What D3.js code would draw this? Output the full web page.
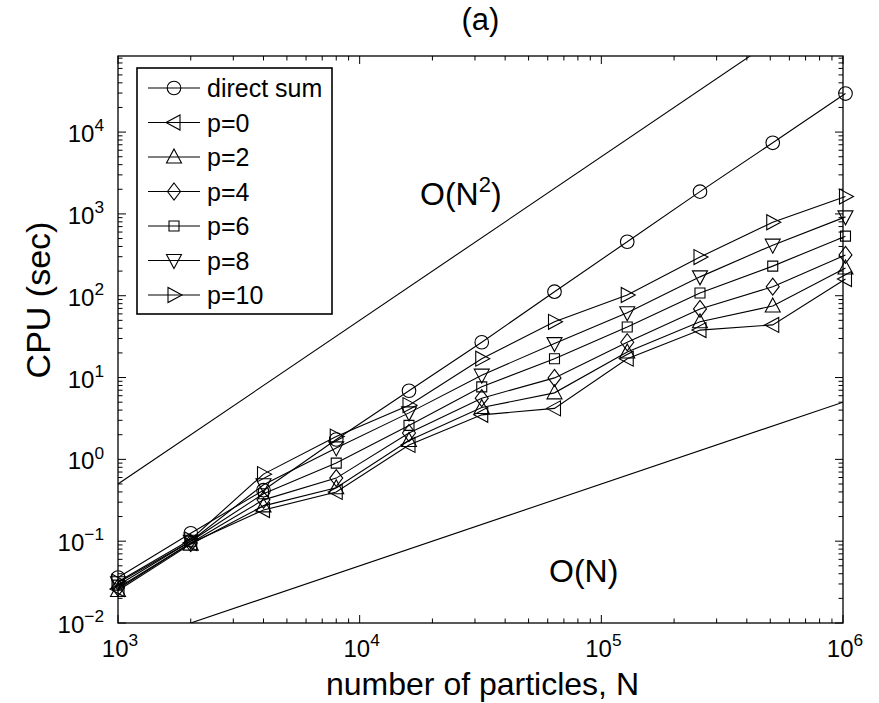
<!DOCTYPE html>
<html>
<head>
<meta charset="utf-8">
<script src="https://cdn.jsdelivr.net/npm/d3@7"></script>
<style>
  body { margin: 0; background: #fff; }
  text { font-family: "Liberation Sans", Arial, Helvetica, sans-serif; fill: #000; }
</style>
</head>
<body>
<div class="chartWrapper"></div>
<script>
const width = 879, height = 703;
const margin = { left: 118, right: 879 - 843, top: 56, bottom: 703 - 623 };

// particle counts
const particles = [1000, 2000, 4000, 8000, 16000, 32000, 64000, 128000, 256000, 512000, 1024000];

// CPU seconds
const directSum = [0.036, 0.125, 0.42, 1.75, 6.9, 27, 112, 457, 1870, 7400, 29600];
const p0  = [0.026, 0.095, 0.24, 0.40, 1.5, 3.5, 4.2, 17, 38, 44, 160];
const p2  = [0.025, 0.092, 0.27, 0.45, 1.7, 4.3, 6.5, 20.5, 48, 75, 218];
const p4  = [0.027, 0.095, 0.32, 0.59, 2.1, 5.6, 9.9, 27, 69, 129, 315];
const p6  = [0.029, 0.100, 0.38, 0.90, 2.6, 7.7, 17, 41.5, 108, 230, 535];
const p8  = [0.031, 0.100, 0.49, 1.38, 3.7, 10.7, 26, 62, 170, 415, 920];
const p10 = [0.032, 0.105, 0.66, 1.90, 4.6, 17, 48, 102, 297, 790, 1630];

const seriesNames = ["direct sum", "p=0", "p=2", "p=4", "p=6", "p=8", "p=10"];
const seriesValues = [directSum, p0, p2, p4, p6, p8, p10];
const seriesMarkers = ["circle", "left", "up", "diamond", "square", "down", "right"];

// reference slopes: O(N^2) and O(N)
const refQuadCoef = 5e-7;
const refLinCoef = 5e-6;

const xTickExps = [3, 4, 5, 6];
const yTickExps = [-2, -1, 0, 1, 2, 3, 4];

const svg = d3.select(".chartWrapper").append("svg")
    .attr("width", width)
    .attr("height", height);

const x = d3.scaleLog()
    .domain([1e3, 1e6])
    .range([margin.left, width - margin.right]);

const y = d3.scaleLog()
    .domain([1e-2, Math.pow(10, 4.93)])
    .range([height - margin.bottom, margin.top]);

const x0 = x.range()[0], x1 = x.range()[1];
const y0 = y.range()[0], y1 = y.range()[1];

svg.append("clipPath").attr("id", "plotClip")
  .append("rect")
    .attr("x", x0).attr("y", y1)
    .attr("width", x1 - x0).attr("height", y0 - y1);

// minor + major ticks, pointing inward on all four sides
function drawTicks() {
  const g = svg.append("g").attr("stroke", "#000").attr("stroke-width", 1);
  const majorLen = 8, minorLen = 4.5;

  const xTicks = [];
  for (let e = 3; e < 6; e++) {
    for (let m = 1; m < 10; m++) xTicks.push({ v: m * Math.pow(10, e), major: m === 1 });
  }
  xTicks.push({ v: 1e6, major: true });
  xTicks.forEach(t => {
    const px = x(t.v), len = t.major ? majorLen : minorLen;
    g.append("line").attr("x1", px).attr("x2", px).attr("y1", y0).attr("y2", y0 - len);
    g.append("line").attr("x1", px).attr("x2", px).attr("y1", y1).attr("y2", y1 + len);
  });

  const yTicks = [];
  for (let e = -2; e < 5; e++) {
    for (let m = 1; m < 10; m++) {
      const v = m * Math.pow(10, e);
      if (v <= y.domain()[1]) yTicks.push({ v: v, major: m === 1 });
    }
  }
  yTicks.forEach(t => {
    const py = y(t.v), len = t.major ? majorLen : minorLen;
    g.append("line").attr("y1", py).attr("y2", py).attr("x1", x0).attr("x2", x0 + len);
    g.append("line").attr("y1", py).attr("y2", py).attr("x1", x1).attr("x2", x1 - len);
  });
}

function powerLabel(sel, exp, fontSize) {
  sel.append("tspan").text("10");
  sel.append("tspan")
    .attr("dy", -fontSize * 0.45)
    .attr("font-size", fontSize * 0.72)
    .text(exp < 0 ? "\u2212" + Math.abs(exp) : exp);
}

function drawTickLabels() {
  const fs = 24;
  xTickExps.forEach(e => {
    const t = svg.append("text")
      .attr("x", x(Math.pow(10, e)) + 2)
      .attr("y", y0 + 34)
      .attr("text-anchor", "middle")
      .attr("font-size", fs);
    powerLabel(t, e, fs);
  });
  yTickExps.forEach(e => {
    const t = svg.append("text")
      .attr("x", x0 - 14)
      .attr("y", y(Math.pow(10, e)) + 10)
      .attr("text-anchor", "end")
      .attr("font-size", fs);
    powerLabel(t, e, fs);
  });
}

function markerPath(type) {
  switch (type) {
    case "circle":
      return "M6.8,0A6.8,6.8 0 1,1 -6.8,0A6.8,6.8 0 1,1 6.8,0Z";
    case "up":
      return "M0,-8L7.5,6L-7.5,6Z";
    case "down":
      return "M0,8L7.5,-6L-7.5,-6Z";
    case "left":
      return "M-8,0L6,-7.5L6,7.5Z";
    case "right":
      return "M8,0L-6,-7.5L-6,7.5Z";
    case "square":
      return "M-5,-5L5,-5L5,5L-5,5Z";
    case "diamond":
      return "M0,-8.5L6.5,0L0,8.5L-6.5,0Z";
  }
}

drawTicks();

// reference slope lines
const refLine = d3.line().x(d => x(d[0])).y(d => y(d[1]));
const refG = svg.append("g").attr("clip-path", "url(#plotClip)")
    .attr("fill", "none").attr("stroke", "#000").attr("stroke-width", 1.1);
refG.append("path").attr("d", refLine([[1e3, refQuadCoef * 1e6], [1e6, refQuadCoef * 1e12]]));
refG.append("path").attr("d", refLine([[1e3, refLinCoef * 1e3], [1e6, refLinCoef * 1e6]]));

// data series
const seriesLine = d3.line()
    .x((d, i) => x(particles[i]))
    .y(d => y(d));

seriesValues.forEach((vals, si) => {
  const g = svg.append("g");
  g.append("path")
    .attr("d", seriesLine(vals))
    .attr("fill", "none")
    .attr("stroke", "#000")
    .attr("stroke-width", 1.1);
  g.selectAll("path.mk")
    .data(vals)
    .join("path")
      .attr("class", "mk")
      .attr("transform", (d, i) => `translate(${x(particles[i])},${y(d)})`)
      .attr("d", markerPath(seriesMarkers[si]))
      .attr("fill", "none")
      .attr("stroke", "#000")
      .attr("stroke-width", 1.1);
});

// axes box
svg.append("rect")
  .attr("x", x0).attr("y", y1)
  .attr("width", x1 - x0).attr("height", y0 - y1)
  .attr("fill", "none").attr("stroke", "#000").attr("stroke-width", 1.3);

drawTickLabels();

// slope annotations
const quadLabel = svg.append("text")
  .attr("x", 420).attr("y", 205)
  .attr("font-size", 32);
quadLabel.append("tspan").text("O(N");
quadLabel.append("tspan").attr("dy", -13).attr("font-size", 22).text("2");
quadLabel.append("tspan").attr("dy", 13).text(")");

svg.append("text")
  .attr("x", 549).attr("y", 582)
  .attr("font-size", 32)
  .text("O(N)");

// axis titles
svg.append("text")
  .attr("x", (x0 + x1) / 2).attr("y", 30)
  .attr("text-anchor", "middle")
  .attr("font-size", 31)
  .text("(a)");

svg.append("text")
  .attr("x", (x0 + x1) / 2 + 2).attr("y", 695)
  .attr("text-anchor", "middle")
  .attr("font-size", 32)
  .text("number of particles, N");

svg.append("text")
  .attr("transform", `translate(50,300) rotate(-90)`)
  .attr("text-anchor", "middle")
  .attr("font-size", 34)
  .text("CPU (sec)");

// legend
const legend = svg.append("g").attr("transform", "translate(137,68)");
legend.append("rect")
  .attr("width", 195).attr("height", 246)
  .attr("fill", "#fff").attr("stroke", "#000").attr("stroke-width", 1.6);

seriesNames.forEach((name, i) => {
  const rowY = 20 + i * 34.5;
  const row = legend.append("g").attr("transform", `translate(0,${rowY})`);
  row.append("line")
    .attr("x1", 11).attr("x2", 63)
    .attr("stroke", "#000").attr("stroke-width", 1.1);
  row.append("path")
    .attr("transform", "translate(37,0)")
    .attr("d", markerPath(seriesMarkers[i]))
    .attr("fill", "none").attr("stroke", "#000").attr("stroke-width", 1.1);
  row.append("text")
    .attr("x", 70).attr("y", 9)
    .attr("font-size", 25)
    .text(name);
});
</script>
</body>
</html>
